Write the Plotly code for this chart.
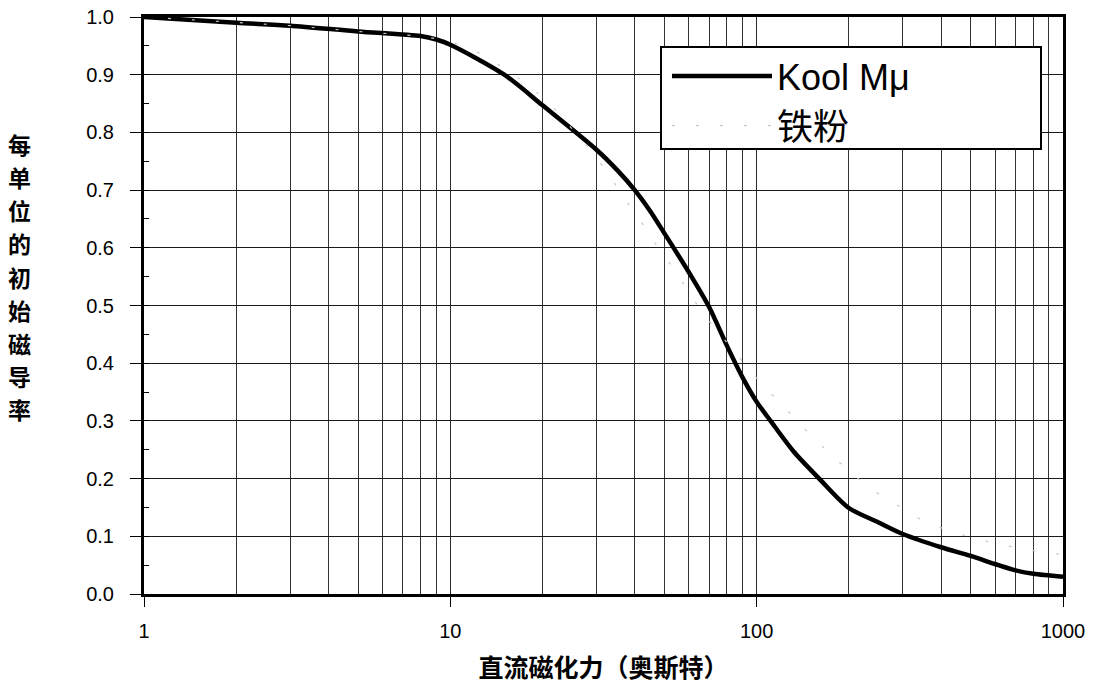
import plotly.graph_objects as go

# ---- data ----
kool_x = [1, 2, 3, 5, 8, 9, 10, 15, 20, 30, 35, 40, 45, 50, 60, 70, 80, 90, 100,
          111, 132, 160, 200, 250, 300, 400, 500, 600, 700, 800, 1000]
kool_y = [1.000, 0.990, 0.985, 0.975, 0.967, 0.961, 0.952, 0.900, 0.847, 0.770,
          0.735, 0.700, 0.663, 0.625, 0.558, 0.497, 0.430, 0.375, 0.333,
          0.300, 0.247, 0.200, 0.149, 0.124, 0.104, 0.081, 0.066, 0.052,
          0.041, 0.035, 0.030]

iron_x = [1, 2, 3, 5, 8, 10, 12.5, 15, 18, 21.5, 29, 33, 37, 42, 47, 53, 60, 67,
          89, 103, 122, 144, 172, 205, 246, 297, 354, 425, 505, 611, 727, 873, 1000]
iron_y = [1.000, 0.990, 0.985, 0.975, 0.967, 0.958, 0.937, 0.911, 0.882, 0.845,
          0.767, 0.726, 0.686, 0.645, 0.605, 0.567, 0.524, 0.485,
          0.406, 0.366, 0.326, 0.285, 0.245, 0.208, 0.176, 0.149, 0.125,
          0.110, 0.097, 0.087, 0.079, 0.072, 0.068]

series_names = ["Kool Mμ", "铁粉"]
x_tick_vals = [1, 10, 100, 1000]
x_tick_text = ["1", "10", "100", "1000"]
x_minor_vals = [2, 3, 4, 5, 6, 7, 8, 9, 20, 30, 40, 50, 60, 70, 80, 90,
                200, 300, 400, 500, 600, 700, 800, 900]
y_title = "每单位的初始磁导率"
x_title = "直流磁化力（奥斯特）"

FONT = "Liberation Sans, Arial, Noto Sans CJK SC, sans-serif"
CJK = "Noto Sans CJK SC, sans-serif"

fig = go.Figure()
fig.add_trace(go.Scatter(
    x=kool_x, y=kool_y, name=series_names[0], mode="lines",
    line=dict(color="black", width=4.5, shape="spline", smoothing=0.8),
))
fig.add_trace(go.Scatter(
    x=iron_x, y=iron_y, name=series_names[1], mode="lines",
    line=dict(color="#c8c8c8", width=1.2, dash="3px,21px"),
))

L, R, T, B = 144, 31, 17, 93
W, H = 1094, 687
# plot area in pixels: 144..1063 x, 17..594 y
AL, AR, AT, AB = L, W - R, T, H - B

def px2paper_x(px):
    return (px - AL) / (AR - AL)

def py2paper_y(py):
    return (AB - py) / (AB - AT)

# legend frame
fig.add_shape(type="rect", xref="paper", yref="paper",
              x0=px2paper_x(661), x1=px2paper_x(1041),
              y0=py2paper_y(149), y1=py2paper_y(47),
              line=dict(color="black", width=2), fillcolor="white", layer="above")

# vertical stacked y title
chars = "<br>".join(f"<b><span style='font-size:23px'>{c}</span></b>" for c in y_title)
fig.add_annotation(
    text=chars, xref="paper", yref="paper",
    x=px2paper_x(19), y=py2paper_y(276), xanchor="center", yanchor="middle",
    showarrow=False, align="center",
    font=dict(family=CJK, size=25.5, color="black"),
)

fig.update_layout(
    width=W, height=H,
    margin=dict(l=L, r=R, t=T, b=B),
    paper_bgcolor="white", plot_bgcolor="white",
    font=dict(family=FONT, color="black", size=20),
    showlegend=True,
    legend=dict(
        x=px2paper_x(667), y=py2paper_y(46), xanchor="left", yanchor="top",
        bgcolor="rgba(0,0,0,0)", borderwidth=0,
        font=dict(family=FONT, size=36, color="black"),
        itemwidth=100,
    ),
)

fig.update_xaxes(
    type="log", range=[0, 3],
    tickvals=x_tick_vals, ticktext=x_tick_text,
    ticks="outside", ticklen=10, tickwidth=1, tickcolor="black",
    ticklabelstandoff=7,
    showgrid=True, gridcolor="#2a2a2a", gridwidth=1,
    minor=dict(tickvals=x_minor_vals, showgrid=True, gridcolor="#333333",
               gridwidth=1, ticks=""),
    showline=True, linecolor="black", linewidth=3, mirror=True,
    zeroline=False, automargin=False,
    tickfont=dict(family=FONT, size=20),
    title=dict(text=f"<b>{x_title}</b>", font=dict(family=CJK, size=25), standoff=19),
)
fig.update_yaxes(
    range=[0, 1], dtick=0.1, tick0=0, tickformat=".1f",
    ticks="outside", ticklen=11, tickwidth=1, tickcolor="black",
    ticklabelstandoff=12,
    showgrid=True, gridcolor="#1a1a1a", gridwidth=1,
    minor=dict(dtick=0.05, ticks="inside", ticklen=5, tickcolor="black",
               tickwidth=1, showgrid=False),
    showline=True, linecolor="black", linewidth=3, mirror=True,
    zeroline=False, automargin=False,
    tickfont=dict(family=FONT, size=20),
)

fig.write_html("out.html", config={"displayModeBar": False},
               post_script="document.body.style.margin='0';")
